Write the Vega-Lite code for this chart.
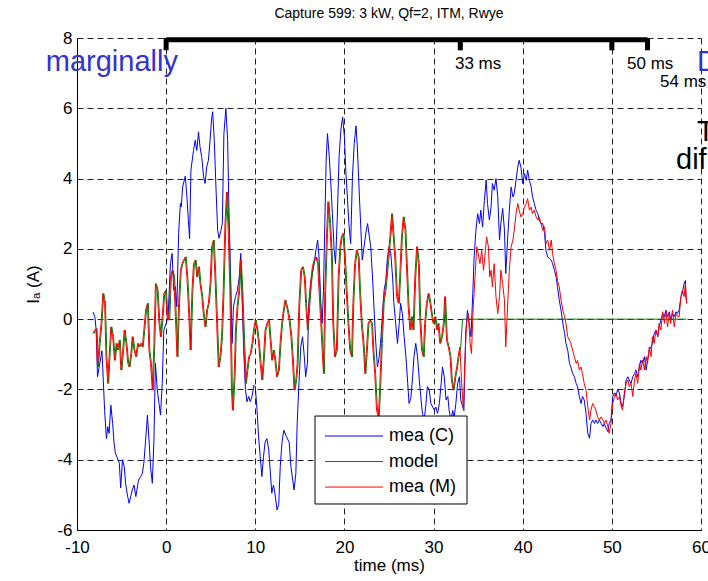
{
"$schema":"https://vega.github.io/schema/vega-lite/v6.json",
"width":624,"height":492,
"autosize":{"type":"none"},
"padding":{"left":77,"top":38,"right":7,"bottom":51},
"background":"white",
"title":{"text":"Capture 599: 3 kW, Qf=2, ITM, Rwye","fontSize":14,"fontWeight":"normal","font":"Liberation Sans","color":"#000","offset":8,"anchor":"middle"},
"config":{"font":"Liberation Sans","view":{"stroke":null},
"axis":{"domainColor":"#000","domainWidth":1,"gridColor":"#222","gridDash":[6,4],"gridWidth":1,"ticks":false,"labelFont":"Liberation Sans","labelFontSize":17,"labelColor":"#000","titleFont":"Liberation Sans","titleFontSize":17,"titleFontWeight":"normal","titleColor":"#000","labelExpr":"toString(datum.value)"}},
"datasets":{
"all":[{"s":"C","t":-8.2,"i":0.2},{"s":"C","t":-8.0,"i":0.07},{"s":"C","t":-7.85,"i":-0.3},{"s":"C","t":-7.7,"i":-1.64},{"s":"C","t":-7.5,"i":-1.35},{"s":"C","t":-7.2,"i":-0.9},{"s":"C","t":-6.9,"i":-2.6},{"s":"C","t":-6.7,"i":-3.4},{"s":"C","t":-6.55,"i":-3.06},{"s":"C","t":-6.4,"i":-3.25},{"s":"C","t":-6.2,"i":-2.45},{"s":"C","t":-6.0,"i":-2.97},{"s":"C","t":-5.85,"i":-3.5},{"s":"C","t":-5.7,"i":-3.8},{"s":"C","t":-5.55,"i":-3.9},{"s":"C","t":-5.25,"i":-4.1},{"s":"C","t":-5.1,"i":-4.8},{"s":"C","t":-4.9,"i":-4.0},{"s":"C","t":-4.7,"i":-4.2},{"s":"C","t":-4.55,"i":-4.67},{"s":"C","t":-4.35,"i":-5.0},{"s":"C","t":-4.15,"i":-5.24},{"s":"C","t":-3.8,"i":-4.86},{"s":"C","t":-3.6,"i":-4.72},{"s":"C","t":-3.4,"i":-5.05},{"s":"C","t":-3.1,"i":-4.58},{"s":"C","t":-2.85,"i":-4.48},{"s":"C","t":-2.67,"i":-4.39},{"s":"C","t":-2.5,"i":-4.1},{"s":"C","t":-2.3,"i":-3.44},{"s":"C","t":-2.1,"i":-2.73},{"s":"C","t":-1.9,"i":-3.53},{"s":"C","t":-1.75,"i":-4.2},{"s":"C","t":-1.55,"i":-4.67},{"s":"C","t":-1.37,"i":-3.44},{"s":"C","t":-1.2,"i":-1.26},{"s":"C","t":-1.0,"i":-2.0},{"s":"C","t":-0.8,"i":-2.4},{"s":"C","t":-0.63,"i":-2.73},{"s":"C","t":-0.44,"i":-1.83},{"s":"C","t":-0.26,"i":-0.31},{"s":"C","t":0,"i":-0.12},{"s":"C","t":0.22,"i":0.07},{"s":"C","t":0.48,"i":1.58},{"s":"C","t":0.67,"i":1.87},{"s":"C","t":0.85,"i":0.82},{"s":"C","t":1.04,"i":0.92},{"s":"C","t":1.2,"i":0.35},{"s":"C","t":1.4,"i":2.44},{"s":"C","t":1.6,"i":3.29},{"s":"C","t":1.7,"i":3.2},{"s":"C","t":1.85,"i":3.76},{"s":"C","t":2.15,"i":4.07},{"s":"C","t":2.33,"i":3.48},{"s":"C","t":2.5,"i":2.8},{"s":"C","t":2.63,"i":2.29},{"s":"C","t":2.78,"i":4.24},{"s":"C","t":3.07,"i":4.8},{"s":"C","t":3.26,"i":5.09},{"s":"C","t":3.44,"i":4.8},{"s":"C","t":3.63,"i":5.33},{"s":"C","t":3.8,"i":4.9},{"s":"C","t":4.0,"i":4.6},{"s":"C","t":4.2,"i":4.05},{"s":"C","t":4.37,"i":3.86},{"s":"C","t":4.55,"i":4.33},{"s":"C","t":4.74,"i":4.52},{"s":"C","t":4.93,"i":5.09},{"s":"C","t":5.1,"i":5.7},{"s":"C","t":5.22,"i":5.9},{"s":"C","t":5.4,"i":5.09},{"s":"C","t":5.6,"i":3.67},{"s":"C","t":5.78,"i":2.53},{"s":"C","t":5.93,"i":2.3},{"s":"C","t":6.15,"i":2.53},{"s":"C","t":6.3,"i":2.72},{"s":"C","t":6.48,"i":5.28},{"s":"C","t":6.7,"i":6.0},{"s":"C","t":6.9,"i":5.09},{"s":"C","t":7.04,"i":3.19},{"s":"C","t":7.2,"i":1.58},{"s":"C","t":7.4,"i":-0.69},{"s":"C","t":7.55,"i":0.35},{"s":"C","t":7.78,"i":0.64},{"s":"C","t":8.0,"i":0.82},{"s":"C","t":8.2,"i":1.2},{"s":"C","t":8.37,"i":1.87},{"s":"C","t":8.5,"i":0.82},{"s":"C","t":8.7,"i":-0.88},{"s":"C","t":8.9,"i":-2.0},{"s":"C","t":9.07,"i":-2.35},{"s":"C","t":9.26,"i":-2.2},{"s":"C","t":9.44,"i":-2.35},{"s":"C","t":9.63,"i":-2.2},{"s":"C","t":9.85,"i":-1.88},{"s":"C","t":10.0,"i":-1.92},{"s":"C","t":10.2,"i":-2.6},{"s":"C","t":10.37,"i":-3.35},{"s":"C","t":10.55,"i":-3.9},{"s":"C","t":10.74,"i":-4.48},{"s":"C","t":10.93,"i":-3.9},{"s":"C","t":11.1,"i":-3.5},{"s":"C","t":11.3,"i":-3.4},{"s":"C","t":11.5,"i":-3.7},{"s":"C","t":11.67,"i":-4.29},{"s":"C","t":11.85,"i":-4.95},{"s":"C","t":12.04,"i":-4.72},{"s":"C","t":12.2,"i":-4.95},{"s":"C","t":12.44,"i":-5.43},{"s":"C","t":12.63,"i":-5.28},{"s":"C","t":12.8,"i":-4.2},{"s":"C","t":13.0,"i":-3.5},{"s":"C","t":13.2,"i":-3.16},{"s":"C","t":13.5,"i":-3.35},{"s":"C","t":13.8,"i":-3.5},{"s":"C","t":14.0,"i":-4.2},{"s":"C","t":14.2,"i":-4.58},{"s":"C","t":14.35,"i":-4.86},{"s":"C","t":14.55,"i":-4.39},{"s":"C","t":14.7,"i":-2.97},{"s":"C","t":14.9,"i":-1.83},{"s":"C","t":15.1,"i":-0.79},{"s":"C","t":15.3,"i":-0.5},{"s":"C","t":15.5,"i":-1.07},{"s":"C","t":15.65,"i":-1.64},{"s":"C","t":15.85,"i":-1.26},{"s":"C","t":16.0,"i":0.45},{"s":"C","t":16.25,"i":1.1},{"s":"C","t":16.4,"i":1.3},{"s":"C","t":16.6,"i":1.58},{"s":"C","t":16.8,"i":1.96},{"s":"C","t":17.0,"i":2.25},{"s":"C","t":17.15,"i":1.77},{"s":"C","t":17.35,"i":0.45},{"s":"C","t":17.5,"i":-0.12},{"s":"C","t":17.65,"i":0.82},{"s":"C","t":17.8,"i":2.72},{"s":"C","t":17.95,"i":4.52},{"s":"C","t":18.1,"i":5.28},{"s":"C","t":18.3,"i":4.62},{"s":"C","t":18.45,"i":3.96},{"s":"C","t":18.65,"i":3.0},{"s":"C","t":18.85,"i":1.96},{"s":"C","t":19.0,"i":1.58},{"s":"C","t":19.2,"i":2.91},{"s":"C","t":19.4,"i":4.62},{"s":"C","t":19.6,"i":5.38},{"s":"C","t":19.8,"i":5.75},{"s":"C","t":20.0,"i":5.18},{"s":"C","t":20.15,"i":4.24},{"s":"C","t":20.35,"i":3.38},{"s":"C","t":20.5,"i":2.72},{"s":"C","t":20.7,"i":2.15},{"s":"C","t":20.9,"i":4.05},{"s":"C","t":21.1,"i":5.0},{"s":"C","t":21.3,"i":5.5},{"s":"C","t":21.45,"i":4.9},{"s":"C","t":21.65,"i":3.67},{"s":"C","t":21.85,"i":2.53},{"s":"C","t":22.0,"i":1.68},{"s":"C","t":22.2,"i":2.06},{"s":"C","t":22.4,"i":2.44},{"s":"C","t":22.6,"i":2.72},{"s":"C","t":22.8,"i":2.34},{"s":"C","t":22.95,"i":2.06},{"s":"C","t":23.15,"i":1.2},{"s":"C","t":23.35,"i":0.16},{"s":"C","t":23.5,"i":-0.6},{"s":"C","t":23.7,"i":-1.36},{"s":"C","t":23.9,"i":-1.07},{"s":"C","t":24.05,"i":-0.69},{"s":"C","t":24.25,"i":0.07},{"s":"C","t":24.45,"i":0.82},{"s":"C","t":24.65,"i":1.1},{"s":"C","t":24.8,"i":1.68},{"s":"C","t":25.0,"i":2.06},{"s":"C","t":25.2,"i":1.87},{"s":"C","t":25.4,"i":1.2},{"s":"C","t":25.55,"i":0.45},{"s":"C","t":25.75,"i":-0.12},{"s":"C","t":25.95,"i":-0.69},{"s":"C","t":26.15,"i":-0.12},{"s":"C","t":26.3,"i":0.45},{"s":"C","t":26.5,"i":0.16},{"s":"C","t":26.7,"i":-0.5},{"s":"C","t":26.9,"i":-1.07},{"s":"C","t":27.1,"i":-1.83},{"s":"C","t":27.25,"i":-2.4},{"s":"C","t":27.45,"i":-2.25},{"s":"C","t":27.65,"i":-1.64},{"s":"C","t":27.8,"i":-1.07},{"s":"C","t":28.0,"i":-0.69},{"s":"C","t":28.2,"i":-1.07},{"s":"C","t":28.4,"i":-1.73},{"s":"C","t":28.6,"i":-2.3},{"s":"C","t":28.75,"i":-2.68},{"s":"C","t":28.95,"i":-2.87},{"s":"C","t":29.15,"i":-2.4},{"s":"C","t":29.3,"i":-1.92},{"s":"C","t":29.5,"i":-2.0},{"s":"C","t":29.7,"i":-2.4},{"s":"C","t":29.9,"i":-2.5},{"s":"C","t":30.1,"i":-2.6},{"s":"C","t":30.25,"i":-2.5},{"s":"C","t":30.45,"i":-2.68},{"s":"C","t":30.65,"i":-2.4},{"s":"C","t":30.85,"i":-1.83},{"s":"C","t":31.0,"i":-1.36},{"s":"C","t":31.2,"i":-1.64},{"s":"C","t":31.4,"i":-2.3},{"s":"C","t":31.6,"i":-2.2},{"s":"C","t":31.75,"i":-2.6},{"s":"C","t":31.95,"i":-2.87},{"s":"C","t":32.15,"i":-2.6},{"s":"C","t":32.3,"i":-2.82},{"s":"C","t":32.5,"i":-2.4},{"s":"C","t":32.7,"i":-1.83},{"s":"C","t":32.9,"i":-1.64},{"s":"C","t":33.05,"i":-2.3},{"s":"C","t":33.4,"i":-2.6},{"s":"C","t":33.6,"i":-0.4},{"s":"C","t":33.8,"i":0.25},{"s":"C","t":34.0,"i":-0.12},{"s":"C","t":34.2,"i":-0.5},{"s":"C","t":34.4,"i":0.73},{"s":"C","t":34.55,"i":1.77},{"s":"C","t":34.75,"i":2.53},{"s":"C","t":34.95,"i":3.0},{"s":"C","t":35.15,"i":2.72},{"s":"C","t":35.3,"i":3.1},{"s":"C","t":35.5,"i":2.62},{"s":"C","t":35.7,"i":3.38},{"s":"C","t":35.9,"i":3.96},{"s":"C","t":36.05,"i":3.29},{"s":"C","t":36.26,"i":2.82},{"s":"C","t":36.45,"i":3.19},{"s":"C","t":36.6,"i":3.86},{"s":"C","t":36.8,"i":3.67},{"s":"C","t":37.0,"i":4.0},{"s":"C","t":37.2,"i":3.48},{"s":"C","t":37.4,"i":2.25},{"s":"C","t":37.55,"i":2.72},{"s":"C","t":37.75,"i":3.15},{"s":"C","t":37.95,"i":2.53},{"s":"C","t":38.1,"i":1.3},{"s":"C","t":38.3,"i":2.25},{"s":"C","t":38.5,"i":3.1},{"s":"C","t":38.7,"i":3.76},{"s":"C","t":38.9,"i":3.48},{"s":"C","t":39.05,"i":3.57},{"s":"C","t":39.25,"i":3.95},{"s":"C","t":39.45,"i":4.33},{"s":"C","t":39.6,"i":4.52},{"s":"C","t":39.8,"i":4.33},{"s":"C","t":40.0,"i":3.86},{"s":"C","t":40.2,"i":4.14},{"s":"C","t":40.4,"i":3.95},{"s":"C","t":40.55,"i":4.24},{"s":"C","t":40.75,"i":3.95},{"s":"C","t":40.95,"i":3.76},{"s":"C","t":41.1,"i":3.48},{"s":"C","t":41.3,"i":3.29},{"s":"C","t":41.5,"i":3.1},{"s":"C","t":41.7,"i":3.0},{"s":"C","t":41.85,"i":2.82},{"s":"C","t":42.05,"i":2.72},{"s":"C","t":42.25,"i":2.72},{"s":"C","t":42.45,"i":2.44},{"s":"C","t":42.6,"i":1.96},{"s":"C","t":42.8,"i":1.77},{"s":"C","t":43.0,"i":1.73},{"s":"C","t":43.2,"i":1.68},{"s":"C","t":43.35,"i":1.58},{"s":"C","t":43.55,"i":1.39},{"s":"C","t":43.75,"i":1.2},{"s":"C","t":43.9,"i":0.92},{"s":"C","t":44.1,"i":0.54},{"s":"C","t":44.3,"i":0.26},{"s":"C","t":44.5,"i":-0.12},{"s":"C","t":44.7,"i":-0.41},{"s":"C","t":44.85,"i":-0.69},{"s":"C","t":45.05,"i":-0.88},{"s":"C","t":45.25,"i":-1.26},{"s":"C","t":45.4,"i":-1.36},{"s":"C","t":45.6,"i":-1.55},{"s":"C","t":45.8,"i":-1.64},{"s":"C","t":46.0,"i":-1.83},{"s":"C","t":46.15,"i":-1.92},{"s":"C","t":46.35,"i":-2.2},{"s":"C","t":46.55,"i":-2.4},{"s":"C","t":46.7,"i":-2.2},{"s":"C","t":46.9,"i":-2.3},{"s":"C","t":47.1,"i":-2.68},{"s":"C","t":47.3,"i":-3.25},{"s":"C","t":47.5,"i":-3.39},{"s":"C","t":47.65,"i":-2.97},{"s":"C","t":47.85,"i":-2.87},{"s":"C","t":48.05,"i":-2.97},{"s":"C","t":48.2,"i":-2.87},{"s":"C","t":48.4,"i":-2.97},{"s":"C","t":48.6,"i":-2.87},{"s":"C","t":48.8,"i":-2.97},{"s":"C","t":49.0,"i":-3.06},{"s":"C","t":49.15,"i":-2.97},{"s":"C","t":49.35,"i":-3.1},{"s":"C","t":49.55,"i":-3.2},{"s":"C","t":49.7,"i":-2.97},{"s":"C","t":49.9,"i":-2.87},{"s":"C","t":50.1,"i":-2.2},{"s":"C","t":50.3,"i":-2.1},{"s":"C","t":50.45,"i":-2.2},{"s":"C","t":50.65,"i":-2.0},{"s":"C","t":50.85,"i":-2.1},{"s":"C","t":51.05,"i":-2.4},{"s":"C","t":51.2,"i":-2.5},{"s":"C","t":51.4,"i":-2.2},{"s":"C","t":51.6,"i":-1.73},{"s":"C","t":51.8,"i":-1.64},{"s":"C","t":51.95,"i":-1.73},{"s":"C","t":52.15,"i":-1.83},{"s":"C","t":52.35,"i":-1.64},{"s":"C","t":52.55,"i":-1.55},{"s":"C","t":52.7,"i":-1.45},{"s":"C","t":52.9,"i":-1.64},{"s":"C","t":53.1,"i":-1.36},{"s":"C","t":53.25,"i":-1.17},{"s":"C","t":53.45,"i":-1.26},{"s":"C","t":53.65,"i":-1.07},{"s":"C","t":53.85,"i":-1.45},{"s":"C","t":54.0,"i":-1.17},{"s":"C","t":54.2,"i":-0.88},{"s":"C","t":54.4,"i":-0.79},{"s":"C","t":54.55,"i":-0.69},{"s":"C","t":54.75,"i":-0.41},{"s":"C","t":54.95,"i":-0.31},{"s":"C","t":55.15,"i":-0.5},{"s":"C","t":55.3,"i":-0.22},{"s":"C","t":55.5,"i":-0.03},{"s":"C","t":55.7,"i":0.16},{"s":"C","t":55.9,"i":0.07},{"s":"C","t":56.05,"i":0.26},{"s":"C","t":56.25,"i":0.07},{"s":"C","t":56.45,"i":0.21},{"s":"C","t":56.6,"i":-0.03},{"s":"C","t":56.8,"i":0.16},{"s":"C","t":57.0,"i":0.07},{"s":"C","t":57.2,"i":0.21},{"s":"C","t":57.35,"i":0.16},{"s":"C","t":57.55,"i":0.26},{"s":"C","t":57.75,"i":0.64},{"s":"C","t":57.9,"i":0.73},{"s":"C","t":58.1,"i":1.01},{"s":"C","t":58.25,"i":1.1},{"s":"C","t":58.3,"i":0.64},{"s":"C","t":58.4,"i":0.45},
{"s":"G","t":-8.1,"i":-0.41},{"s":"G","t":-7.9,"i":-0.31},{"s":"G","t":-7.75,"i":-0.27},{"s":"G","t":-7.6,"i":-1.36},{"s":"G","t":-7.4,"i":-0.69},{"s":"G","t":-7.2,"i":-0.12},{"s":"G","t":-7.0,"i":0.73},{"s":"G","t":-6.8,"i":0.45},{"s":"G","t":-6.65,"i":-1.07},{"s":"G","t":-6.45,"i":-1.83},{"s":"G","t":-6.3,"i":-1.07},{"s":"G","t":-6.1,"i":-0.22},{"s":"G","t":-5.9,"i":-0.5},{"s":"G","t":-5.7,"i":-1.17},{"s":"G","t":-5.5,"i":-0.69},{"s":"G","t":-5.35,"i":-0.88},{"s":"G","t":-5.15,"i":-0.6},{"s":"G","t":-4.97,"i":-1.45},{"s":"G","t":-4.8,"i":-0.98},{"s":"G","t":-4.6,"i":-0.31},{"s":"G","t":-4.4,"i":-0.69},{"s":"G","t":-4.2,"i":-1.26},{"s":"G","t":-4.05,"i":-1.36},{"s":"G","t":-3.86,"i":-0.98},{"s":"G","t":-3.7,"i":-0.5},{"s":"G","t":-3.5,"i":-0.88},{"s":"G","t":-3.3,"i":-1.07},{"s":"G","t":-3.1,"i":-0.69},{"s":"G","t":-2.94,"i":-0.79},{"s":"G","t":-2.75,"i":-0.69},{"s":"G","t":-2.57,"i":-0.79},{"s":"G","t":-2.4,"i":-0.31},{"s":"G","t":-2.2,"i":0.26},{"s":"G","t":-2.0,"i":0.45},{"s":"G","t":-1.83,"i":-0.88},{"s":"G","t":-1.65,"i":-1.26},{"s":"G","t":-1.45,"i":-2.02},{"s":"G","t":-1.27,"i":-0.69},{"s":"G","t":-1.1,"i":1.01},{"s":"G","t":-0.9,"i":0.82},{"s":"G","t":-0.7,"i":-0.12},{"s":"G","t":-0.53,"i":-0.5},{"s":"G","t":-0.34,"i":0.07},{"s":"G","t":-0.16,"i":0.73},{"s":"G","t":0.03,"i":0.82},{"s":"G","t":0.2,"i":0.07},{"s":"G","t":0.4,"i":-0.03},{"s":"G","t":0.58,"i":1.2},{"s":"G","t":0.77,"i":1.39},{"s":"G","t":0.95,"i":1.2},{"s":"G","t":1.14,"i":0.07},{"s":"G","t":1.32,"i":-1.07},{"s":"G","t":1.5,"i":0.45},{"s":"G","t":1.7,"i":1.39},{"s":"G","t":1.88,"i":1.58},{"s":"G","t":2.06,"i":1.68},{"s":"G","t":2.25,"i":1.77},{"s":"G","t":2.43,"i":1.2},{"s":"G","t":2.6,"i":0.35},{"s":"G","t":2.8,"i":-0.88},{"s":"G","t":3.0,"i":0.82},{"s":"G","t":3.17,"i":1.58},{"s":"G","t":3.36,"i":1.68},{"s":"G","t":3.54,"i":1.2},{"s":"G","t":3.73,"i":1.49},{"s":"G","t":3.9,"i":1.01},{"s":"G","t":4.1,"i":0.64},{"s":"G","t":4.3,"i":0.07},{"s":"G","t":4.47,"i":-0.22},{"s":"G","t":4.65,"i":0.26},{"s":"G","t":4.84,"i":0.45},{"s":"G","t":5.03,"i":1.01},{"s":"G","t":5.2,"i":2.06},{"s":"G","t":5.4,"i":2.25},{"s":"G","t":5.58,"i":1.2},{"s":"G","t":5.77,"i":-0.12},{"s":"G","t":5.95,"i":-1.36},{"s":"G","t":6.14,"i":-1.07},{"s":"G","t":6.32,"i":-0.5},{"s":"G","t":6.5,"i":0.82},{"s":"G","t":6.7,"i":2.72},{"s":"G","t":6.88,"i":3.62},{"s":"G","t":7.06,"i":2.53},{"s":"G","t":7.25,"i":0.82},{"s":"G","t":7.43,"i":-2.02},{"s":"G","t":7.54,"i":-2.59},{"s":"G","t":7.73,"i":-1.64},{"s":"G","t":7.88,"i":-0.31},{"s":"G","t":8.06,"i":0.35},{"s":"G","t":8.25,"i":0.82},{"s":"G","t":8.43,"i":1.68},{"s":"G","t":8.6,"i":0.82},{"s":"G","t":8.8,"i":-0.6},{"s":"G","t":9.0,"i":-1.83},{"s":"G","t":9.17,"i":-1.45},{"s":"G","t":9.36,"i":-1.07},{"s":"G","t":9.54,"i":-0.98},{"s":"G","t":9.73,"i":-0.69},{"s":"G","t":9.9,"i":-0.31},{"s":"G","t":10.1,"i":-0.03},{"s":"G","t":10.3,"i":-0.31},{"s":"G","t":10.47,"i":-0.69},{"s":"G","t":10.65,"i":-1.26},{"s":"G","t":10.84,"i":-1.73},{"s":"G","t":11.03,"i":-1.07},{"s":"G","t":11.2,"i":-0.31},{"s":"G","t":11.4,"i":-0.12},{"s":"G","t":11.6,"i":-0.03},{"s":"G","t":11.77,"i":-0.6},{"s":"G","t":11.95,"i":-1.17},{"s":"G","t":12.14,"i":-0.88},{"s":"G","t":12.3,"i":-1.17},{"s":"G","t":12.5,"i":-1.64},{"s":"G","t":12.7,"i":-1.45},{"s":"G","t":12.88,"i":-0.69},{"s":"G","t":13.06,"i":-0.12},{"s":"G","t":13.25,"i":0.26},{"s":"G","t":13.43,"i":0.54},{"s":"G","t":13.7,"i":0.26},{"s":"G","t":13.9,"i":-0.03},{"s":"G","t":14.1,"i":-0.5},{"s":"G","t":14.25,"i":-1.07},{"s":"G","t":14.45,"i":-2.02},{"s":"G","t":14.65,"i":-1.73},{"s":"G","t":14.8,"i":-1.26},{"s":"G","t":15.0,"i":0.45},{"s":"G","t":15.2,"i":1.39},{"s":"G","t":15.4,"i":1.49},{"s":"G","t":15.6,"i":1.2},{"s":"G","t":15.75,"i":0.45},{"s":"G","t":15.95,"i":-0.31},{"s":"G","t":16.1,"i":0.35},{"s":"G","t":16.3,"i":1.01},{"s":"G","t":16.5,"i":1.49},{"s":"G","t":16.7,"i":1.68},{"s":"G","t":16.9,"i":1.77},{"s":"G","t":17.1,"i":1.58},{"s":"G","t":17.25,"i":0.82},{"s":"G","t":17.45,"i":-0.12},{"s":"G","t":17.6,"i":-0.88},{"s":"G","t":17.75,"i":-1.55},{"s":"G","t":17.9,"i":0.82},{"s":"G","t":18.1,"i":2.44},{"s":"G","t":18.25,"i":3.34},{"s":"G","t":18.45,"i":2.72},{"s":"G","t":18.65,"i":1.77},{"s":"G","t":18.8,"i":-0.12},{"s":"G","t":19.0,"i":-1.07},{"s":"G","t":19.2,"i":-0.88},{"s":"G","t":19.4,"i":1.2},{"s":"G","t":19.6,"i":2.06},{"s":"G","t":19.75,"i":2.34},{"s":"G","t":19.95,"i":2.44},{"s":"G","t":20.15,"i":1.58},{"s":"G","t":20.3,"i":0.82},{"s":"G","t":20.5,"i":-0.12},{"s":"G","t":20.7,"i":-0.88},{"s":"G","t":20.9,"i":-1.07},{"s":"G","t":21.05,"i":0.45},{"s":"G","t":21.25,"i":1.58},{"s":"G","t":21.45,"i":1.96},{"s":"G","t":21.65,"i":1.77},{"s":"G","t":21.8,"i":0.82},{"s":"G","t":22.0,"i":-0.12},{"s":"G","t":22.2,"i":-0.69},{"s":"G","t":22.4,"i":-1.55},{"s":"G","t":22.55,"i":-0.98},{"s":"G","t":22.75,"i":-0.12},{"s":"G","t":22.95,"i":-0.03},{"s":"G","t":23.15,"i":-0.12},{"s":"G","t":23.3,"i":-0.88},{"s":"G","t":23.5,"i":-1.55},{"s":"G","t":23.7,"i":-2.59},{"s":"G","t":23.9,"i":-2.78},{"s":"G","t":24.05,"i":-2.02},{"s":"G","t":24.25,"i":-0.69},{"s":"G","t":24.45,"i":0.45},{"s":"G","t":24.65,"i":0.82},{"s":"G","t":24.8,"i":1.2},{"s":"G","t":25.0,"i":1.77},{"s":"G","t":25.2,"i":2.34},{"s":"G","t":25.4,"i":3.0},{"s":"G","t":25.55,"i":2.44},{"s":"G","t":25.75,"i":1.77},{"s":"G","t":25.95,"i":0.64},{"s":"G","t":26.15,"i":0.45},{"s":"G","t":26.3,"i":1.2},{"s":"G","t":26.5,"i":2.34},{"s":"G","t":26.7,"i":2.91},{"s":"G","t":26.9,"i":2.53},{"s":"G","t":27.05,"i":1.58},{"s":"G","t":27.25,"i":0.35},{"s":"G","t":27.45,"i":-0.31},{"s":"G","t":27.65,"i":0.07},{"s":"G","t":27.8,"i":-0.31},{"s":"G","t":28.0,"i":1.2},{"s":"G","t":28.2,"i":2.06},{"s":"G","t":28.4,"i":1.58},{"s":"G","t":28.55,"i":0.07},{"s":"G","t":28.75,"i":-0.88},{"s":"G","t":28.95,"i":-1.07},{"s":"G","t":29.1,"i":-0.12},{"s":"G","t":29.3,"i":0.45},{"s":"G","t":29.5,"i":0.73},{"s":"G","t":29.7,"i":0.45},{"s":"G","t":29.9,"i":0.07},{"s":"G","t":30.05,"i":-0.12},{"s":"G","t":30.25,"i":0.07},{"s":"G","t":30.45,"i":-0.31},{"s":"G","t":30.6,"i":-0.12},{"s":"G","t":30.8,"i":-0.69},{"s":"G","t":31.0,"i":-0.5},{"s":"G","t":31.2,"i":-0.12},{"s":"G","t":31.35,"i":0.64},{"s":"G","t":31.55,"i":-0.6},{"s":"G","t":31.75,"i":-0.79},{"s":"G","t":31.95,"i":-1.07},{"s":"G","t":32.1,"i":-1.73},{"s":"G","t":32.3,"i":-2.02},{"s":"G","t":32.5,"i":-1.64},{"s":"G","t":32.7,"i":-1.36},{"s":"G","t":32.85,"i":-1.07},{"s":"G","t":33.05,"i":-0.79},{"s":"G","t":33.25,"i":0},{"s":"G","t":58.35,"i":0},
{"s":"R","t":-8.2,"i":-0.41},{"s":"R","t":-8.0,"i":-0.31},{"s":"R","t":-7.85,"i":-0.27},{"s":"R","t":-7.7,"i":-1.36},{"s":"R","t":-7.5,"i":-0.69},{"s":"R","t":-7.3,"i":-0.12},{"s":"R","t":-7.1,"i":0.73},{"s":"R","t":-6.9,"i":0.45},{"s":"R","t":-6.75,"i":-1.07},{"s":"R","t":-6.55,"i":-1.83},{"s":"R","t":-6.4,"i":-1.07},{"s":"R","t":-6.2,"i":-0.22},{"s":"R","t":-6.0,"i":-0.5},{"s":"R","t":-5.8,"i":-1.17},{"s":"R","t":-5.6,"i":-0.69},{"s":"R","t":-5.45,"i":-0.88},{"s":"R","t":-5.25,"i":-0.6},{"s":"R","t":-5.07,"i":-1.45},{"s":"R","t":-4.9,"i":-0.98},{"s":"R","t":-4.7,"i":-0.31},{"s":"R","t":-4.5,"i":-0.69},{"s":"R","t":-4.3,"i":-1.26},{"s":"R","t":-4.15,"i":-1.36},{"s":"R","t":-3.96,"i":-0.98},{"s":"R","t":-3.8,"i":-0.5},{"s":"R","t":-3.6,"i":-0.88},{"s":"R","t":-3.4,"i":-1.07},{"s":"R","t":-3.2,"i":-0.69},{"s":"R","t":-3.04,"i":-0.79},{"s":"R","t":-2.85,"i":-0.69},{"s":"R","t":-2.67,"i":-0.79},{"s":"R","t":-2.5,"i":-0.31},{"s":"R","t":-2.3,"i":0.26},{"s":"R","t":-2.1,"i":0.45},{"s":"R","t":-1.93,"i":-0.88},{"s":"R","t":-1.75,"i":-1.26},{"s":"R","t":-1.55,"i":-2.02},{"s":"R","t":-1.37,"i":-0.69},{"s":"R","t":-1.2,"i":1.01},{"s":"R","t":-1.0,"i":0.82},{"s":"R","t":-0.8,"i":-0.12},{"s":"R","t":-0.63,"i":-0.5},{"s":"R","t":-0.44,"i":0.07},{"s":"R","t":-0.26,"i":0.73},{"s":"R","t":-0.07,"i":0.82},{"s":"R","t":0.1,"i":0.07},{"s":"R","t":0.3,"i":-0.03},{"s":"R","t":0.48,"i":1.2},{"s":"R","t":0.67,"i":1.39},{"s":"R","t":0.85,"i":1.2},{"s":"R","t":1.04,"i":0.07},{"s":"R","t":1.22,"i":-1.07},{"s":"R","t":1.4,"i":0.45},{"s":"R","t":1.6,"i":1.39},{"s":"R","t":1.78,"i":1.58},{"s":"R","t":1.96,"i":1.68},{"s":"R","t":2.15,"i":1.77},{"s":"R","t":2.33,"i":1.2},{"s":"R","t":2.5,"i":0.35},{"s":"R","t":2.7,"i":-0.88},{"s":"R","t":2.9,"i":0.82},{"s":"R","t":3.07,"i":1.58},{"s":"R","t":3.26,"i":1.68},{"s":"R","t":3.44,"i":1.2},{"s":"R","t":3.63,"i":1.49},{"s":"R","t":3.8,"i":1.01},{"s":"R","t":4.0,"i":0.64},{"s":"R","t":4.2,"i":0.07},{"s":"R","t":4.37,"i":-0.22},{"s":"R","t":4.55,"i":0.26},{"s":"R","t":4.74,"i":0.45},{"s":"R","t":4.93,"i":1.01},{"s":"R","t":5.1,"i":2.06},{"s":"R","t":5.3,"i":2.25},{"s":"R","t":5.48,"i":1.2},{"s":"R","t":5.67,"i":-0.12},{"s":"R","t":5.85,"i":-1.36},{"s":"R","t":6.04,"i":-1.07},{"s":"R","t":6.22,"i":-0.5},{"s":"R","t":6.4,"i":0.82},{"s":"R","t":6.6,"i":2.72},{"s":"R","t":6.78,"i":3.62},{"s":"R","t":6.96,"i":2.53},{"s":"R","t":7.15,"i":0.82},{"s":"R","t":7.33,"i":-2.02},{"s":"R","t":7.44,"i":-2.59},{"s":"R","t":7.63,"i":-1.64},{"s":"R","t":7.78,"i":-0.31},{"s":"R","t":7.96,"i":0.35},{"s":"R","t":8.15,"i":0.82},{"s":"R","t":8.33,"i":1.68},{"s":"R","t":8.5,"i":0.82},{"s":"R","t":8.7,"i":-0.6},{"s":"R","t":8.9,"i":-1.83},{"s":"R","t":9.07,"i":-1.45},{"s":"R","t":9.26,"i":-1.07},{"s":"R","t":9.44,"i":-0.98},{"s":"R","t":9.63,"i":-0.69},{"s":"R","t":9.8,"i":-0.31},{"s":"R","t":10.0,"i":-0.03},{"s":"R","t":10.2,"i":-0.31},{"s":"R","t":10.37,"i":-0.69},{"s":"R","t":10.55,"i":-1.26},{"s":"R","t":10.74,"i":-1.73},{"s":"R","t":10.93,"i":-1.07},{"s":"R","t":11.1,"i":-0.31},{"s":"R","t":11.3,"i":-0.12},{"s":"R","t":11.5,"i":-0.03},{"s":"R","t":11.67,"i":-0.6},{"s":"R","t":11.85,"i":-1.17},{"s":"R","t":12.04,"i":-0.88},{"s":"R","t":12.2,"i":-1.17},{"s":"R","t":12.4,"i":-1.64},{"s":"R","t":12.6,"i":-1.45},{"s":"R","t":12.78,"i":-0.69},{"s":"R","t":12.96,"i":-0.12},{"s":"R","t":13.15,"i":0.26},{"s":"R","t":13.33,"i":0.54},{"s":"R","t":13.6,"i":0.26},{"s":"R","t":13.8,"i":-0.03},{"s":"R","t":14.0,"i":-0.5},{"s":"R","t":14.15,"i":-1.07},{"s":"R","t":14.35,"i":-2.02},{"s":"R","t":14.55,"i":-1.73},{"s":"R","t":14.7,"i":-1.26},{"s":"R","t":14.9,"i":0.45},{"s":"R","t":15.1,"i":1.39},{"s":"R","t":15.3,"i":1.49},{"s":"R","t":15.5,"i":1.2},{"s":"R","t":15.65,"i":0.45},{"s":"R","t":15.85,"i":-0.31},{"s":"R","t":16.0,"i":0.35},{"s":"R","t":16.2,"i":1.01},{"s":"R","t":16.4,"i":1.49},{"s":"R","t":16.6,"i":1.68},{"s":"R","t":16.8,"i":1.77},{"s":"R","t":17.0,"i":1.58},{"s":"R","t":17.15,"i":0.82},{"s":"R","t":17.35,"i":-0.12},{"s":"R","t":17.5,"i":-0.88},{"s":"R","t":17.65,"i":-1.55},{"s":"R","t":17.8,"i":0.82},{"s":"R","t":18.0,"i":2.44},{"s":"R","t":18.15,"i":3.34},{"s":"R","t":18.35,"i":2.72},{"s":"R","t":18.55,"i":1.77},{"s":"R","t":18.7,"i":-0.12},{"s":"R","t":18.9,"i":-1.07},{"s":"R","t":19.1,"i":-0.88},{"s":"R","t":19.3,"i":1.2},{"s":"R","t":19.5,"i":2.06},{"s":"R","t":19.65,"i":2.34},{"s":"R","t":19.85,"i":2.44},{"s":"R","t":20.05,"i":1.58},{"s":"R","t":20.2,"i":0.82},{"s":"R","t":20.4,"i":-0.12},{"s":"R","t":20.6,"i":-0.88},{"s":"R","t":20.8,"i":-1.07},{"s":"R","t":20.95,"i":0.45},{"s":"R","t":21.15,"i":1.58},{"s":"R","t":21.35,"i":1.96},{"s":"R","t":21.55,"i":1.77},{"s":"R","t":21.7,"i":0.82},{"s":"R","t":21.9,"i":-0.12},{"s":"R","t":22.1,"i":-0.69},{"s":"R","t":22.3,"i":-1.55},{"s":"R","t":22.45,"i":-0.98},{"s":"R","t":22.65,"i":-0.12},{"s":"R","t":22.85,"i":-0.03},{"s":"R","t":23.05,"i":-0.12},{"s":"R","t":23.2,"i":-0.88},{"s":"R","t":23.4,"i":-1.55},{"s":"R","t":23.6,"i":-2.59},{"s":"R","t":23.8,"i":-2.78},{"s":"R","t":23.95,"i":-2.02},{"s":"R","t":24.15,"i":-0.69},{"s":"R","t":24.35,"i":0.45},{"s":"R","t":24.55,"i":0.82},{"s":"R","t":24.7,"i":1.2},{"s":"R","t":24.9,"i":1.77},{"s":"R","t":25.1,"i":2.34},{"s":"R","t":25.3,"i":3.0},{"s":"R","t":25.45,"i":2.44},{"s":"R","t":25.65,"i":1.77},{"s":"R","t":25.85,"i":0.64},{"s":"R","t":26.05,"i":0.45},{"s":"R","t":26.2,"i":1.2},{"s":"R","t":26.4,"i":2.34},{"s":"R","t":26.6,"i":2.91},{"s":"R","t":26.8,"i":2.53},{"s":"R","t":26.95,"i":1.58},{"s":"R","t":27.15,"i":0.35},{"s":"R","t":27.35,"i":-0.31},{"s":"R","t":27.55,"i":0.07},{"s":"R","t":27.7,"i":-0.31},{"s":"R","t":27.9,"i":1.2},{"s":"R","t":28.1,"i":2.06},{"s":"R","t":28.3,"i":1.58},{"s":"R","t":28.45,"i":0.07},{"s":"R","t":28.65,"i":-0.88},{"s":"R","t":28.85,"i":-1.07},{"s":"R","t":29.0,"i":-0.12},{"s":"R","t":29.2,"i":0.45},{"s":"R","t":29.4,"i":0.73},{"s":"R","t":29.6,"i":0.45},{"s":"R","t":29.8,"i":0.07},{"s":"R","t":29.95,"i":-0.12},{"s":"R","t":30.15,"i":0.07},{"s":"R","t":30.35,"i":-0.31},{"s":"R","t":30.5,"i":-0.12},{"s":"R","t":30.7,"i":-0.69},{"s":"R","t":30.9,"i":-0.5},{"s":"R","t":31.1,"i":-0.12},{"s":"R","t":31.25,"i":0.64},{"s":"R","t":31.45,"i":-0.6},{"s":"R","t":31.65,"i":-0.79},{"s":"R","t":31.85,"i":-1.07},{"s":"R","t":32.0,"i":-1.73},{"s":"R","t":32.2,"i":-2.02},{"s":"R","t":32.4,"i":-1.64},{"s":"R","t":32.6,"i":-1.36},{"s":"R","t":32.75,"i":-1.07},{"s":"R","t":32.95,"i":-0.79},{"s":"R","t":33.15,"i":-1.83},{"s":"R","t":33.35,"i":-2.59},{"s":"R","t":33.5,"i":-1.26},{"s":"R","t":33.7,"i":-0.12},{"s":"R","t":33.9,"i":0.16},{"s":"R","t":34.1,"i":-0.69},{"s":"R","t":34.25,"i":-0.98},{"s":"R","t":34.45,"i":0.35},{"s":"R","t":34.65,"i":1.2},{"s":"R","t":34.85,"i":2.06},{"s":"R","t":35.0,"i":1.87},{"s":"R","t":35.2,"i":1.58},{"s":"R","t":35.4,"i":1.96},{"s":"R","t":35.6,"i":1.39},{"s":"R","t":35.75,"i":1.77},{"s":"R","t":35.95,"i":2.34},{"s":"R","t":36.15,"i":2.06},{"s":"R","t":36.3,"i":1.2},{"s":"R","t":36.45,"i":1.39},{"s":"R","t":36.6,"i":0.92},{"s":"R","t":36.8,"i":1.58},{"s":"R","t":37.0,"i":0.64},{"s":"R","t":37.2,"i":0.16},{"s":"R","t":37.4,"i":0.64},{"s":"R","t":37.55,"i":1.39},{"s":"R","t":37.75,"i":1.01},{"s":"R","t":37.95,"i":0.54},{"s":"R","t":38.1,"i":-0.79},{"s":"R","t":38.3,"i":0.35},{"s":"R","t":38.5,"i":1.39},{"s":"R","t":38.7,"i":2.06},{"s":"R","t":38.9,"i":2.25},{"s":"R","t":39.05,"i":2.53},{"s":"R","t":39.25,"i":3.0},{"s":"R","t":39.45,"i":3.29},{"s":"R","t":39.6,"i":3.1},{"s":"R","t":39.8,"i":2.91},{"s":"R","t":40.0,"i":3.0},{"s":"R","t":40.2,"i":3.19},{"s":"R","t":40.4,"i":3.29},{"s":"R","t":40.55,"i":3.43},{"s":"R","t":40.75,"i":3.1},{"s":"R","t":40.95,"i":3.19},{"s":"R","t":41.1,"i":3.0},{"s":"R","t":41.3,"i":3.1},{"s":"R","t":41.5,"i":2.91},{"s":"R","t":41.7,"i":2.82},{"s":"R","t":41.85,"i":2.91},{"s":"R","t":42.05,"i":2.72},{"s":"R","t":42.25,"i":2.53},{"s":"R","t":42.45,"i":2.63},{"s":"R","t":42.6,"i":2.15},{"s":"R","t":42.8,"i":2.25},{"s":"R","t":43.0,"i":1.96},{"s":"R","t":43.2,"i":2.25},{"s":"R","t":43.35,"i":1.87},{"s":"R","t":43.55,"i":1.58},{"s":"R","t":43.75,"i":1.39},{"s":"R","t":43.9,"i":1.1},{"s":"R","t":44.1,"i":0.92},{"s":"R","t":44.3,"i":0.54},{"s":"R","t":44.5,"i":0.26},{"s":"R","t":44.7,"i":0.07},{"s":"R","t":44.85,"i":-0.12},{"s":"R","t":45.05,"i":-0.5},{"s":"R","t":45.25,"i":-0.6},{"s":"R","t":45.4,"i":-0.69},{"s":"R","t":45.6,"i":-0.88},{"s":"R","t":45.8,"i":-1.07},{"s":"R","t":46.0,"i":-1.26},{"s":"R","t":46.15,"i":-1.17},{"s":"R","t":46.35,"i":-1.45},{"s":"R","t":46.55,"i":-1.36},{"s":"R","t":46.7,"i":-1.55},{"s":"R","t":46.9,"i":-1.83},{"s":"R","t":47.1,"i":-2.02},{"s":"R","t":47.3,"i":-2.49},{"s":"R","t":47.5,"i":-2.87},{"s":"R","t":47.65,"i":-2.59},{"s":"R","t":47.85,"i":-2.4},{"s":"R","t":48.05,"i":-2.49},{"s":"R","t":48.2,"i":-2.59},{"s":"R","t":48.4,"i":-2.78},{"s":"R","t":48.6,"i":-2.87},{"s":"R","t":48.8,"i":-2.78},{"s":"R","t":49.0,"i":-2.87},{"s":"R","t":49.15,"i":-2.97},{"s":"R","t":49.35,"i":-2.87},{"s":"R","t":49.55,"i":-3.06},{"s":"R","t":49.7,"i":-3.25},{"s":"R","t":49.9,"i":-2.97},{"s":"R","t":50.1,"i":-2.4},{"s":"R","t":50.3,"i":-2.2},{"s":"R","t":50.45,"i":-2.1},{"s":"R","t":50.65,"i":-2.3},{"s":"R","t":50.85,"i":-2.2},{"s":"R","t":51.05,"i":-2.49},{"s":"R","t":51.2,"i":-2.59},{"s":"R","t":51.4,"i":-2.1},{"s":"R","t":51.6,"i":-1.83},{"s":"R","t":51.8,"i":-1.73},{"s":"R","t":51.95,"i":-1.92},{"s":"R","t":52.15,"i":-1.83},{"s":"R","t":52.35,"i":-2.2},{"s":"R","t":52.55,"i":-1.73},{"s":"R","t":52.7,"i":-1.55},{"s":"R","t":52.9,"i":-1.83},{"s":"R","t":53.1,"i":-1.26},{"s":"R","t":53.25,"i":-1.45},{"s":"R","t":53.45,"i":-1.17},{"s":"R","t":53.65,"i":-1.45},{"s":"R","t":53.85,"i":-1.07},{"s":"R","t":54.0,"i":-1.26},{"s":"R","t":54.2,"i":-0.79},{"s":"R","t":54.4,"i":-1.07},{"s":"R","t":54.55,"i":-0.5},{"s":"R","t":54.75,"i":-0.69},{"s":"R","t":54.95,"i":-0.31},{"s":"R","t":55.15,"i":-0.5},{"s":"R","t":55.3,"i":-0.12},{"s":"R","t":55.5,"i":-0.31},{"s":"R","t":55.7,"i":0.21},{"s":"R","t":55.9,"i":-0.12},{"s":"R","t":56.05,"i":0.26},{"s":"R","t":56.25,"i":-0.22},{"s":"R","t":56.45,"i":0.16},{"s":"R","t":56.6,"i":-0.12},{"s":"R","t":56.8,"i":0.26},{"s":"R","t":57.0,"i":-0.22},{"s":"R","t":57.2,"i":0.16},{"s":"R","t":57.35,"i":0.07},{"s":"R","t":57.55,"i":0.07},{"s":"R","t":57.75,"i":0.64},{"s":"R","t":57.9,"i":0.82},{"s":"R","t":58.1,"i":0.64},{"s":"R","t":58.25,"i":1.01},{"s":"R","t":58.4,"i":0.45}]
},
"layer":[
{"data":{"name":"all"},"mark":{"type":"line","strokeWidth":1,"clip":true},
 "encoding":{
  "x":{"field":"t","type":"quantitative","scale":{"domain":[-10,60],"nice":false,"zero":false},"axis":{"title":"time (ms)","values":[-10,0,10,20,30,40,50,60],"grid":true,"labelPadding":9,"titlePadding":2,"labelFlush":false}},
  "y":{"field":"i","type":"quantitative","scale":{"domain":[-6,8],"nice":false,"zero":false},"axis":{"title":"Iₐ (A)","values":[-6,-4,-2,0,2,4,6,8],"grid":true,"labelPadding":5,"titlePadding":14,"labelFlush":false}},
  "color":{"field":"s","type":"nominal","scale":{"domain":["C","G","R"],"range":["#0000ff","#008000","#ff0000"]},"legend":null}}},
{"data":{"values":[{}]},"mark":{"type":"rect","fill":"#ffffff","stroke":"#000000","strokeWidth":1},"encoding":{"x":{"datum":16.7},"x2":{"datum":33.75},"y":{"datum":-2.757},"y2":{"datum":-5.26}}},
{"data":{"values":[{}]},"mark":{"type":"rule","color":"#0000ff","strokeWidth":1},"encoding":{"x":{"datum":17.82},"x2":{"datum":24.33},"y":{"datum":-3.326}}},
{"data":{"values":[{}]},"mark":{"type":"rule","color":"#008000","strokeWidth":1},"encoding":{"x":{"datum":17.82},"x2":{"datum":24.33},"y":{"datum":-4.052}}},
{"data":{"values":[{}]},"mark":{"type":"rule","color":"#ff0000","strokeWidth":1},"encoding":{"x":{"datum":17.82},"x2":{"datum":24.33},"y":{"datum":-4.778}}},
{"data":{"values":[{}]},"mark":{"type":"text","text":"mea (C)","align":"left","baseline":"middle","fontSize":18,"color":"#000"},"encoding":{"x":{"datum":25.0},"y":{"datum":-3.326}}},
{"data":{"values":[{}]},"mark":{"type":"text","text":"model","align":"left","baseline":"middle","fontSize":18,"color":"#000"},"encoding":{"x":{"datum":25.0},"y":{"datum":-4.052}}},
{"data":{"values":[{}]},"mark":{"type":"text","text":"mea (M)","align":"left","baseline":"middle","fontSize":18,"color":"#000"},"encoding":{"x":{"datum":25.0},"y":{"datum":-4.778}}},
{"data":{"values":[{"a":0,"b":54}]},"mark":{"type":"rule","color":"#000","strokeWidth":5},"encoding":{"x":{"field":"a","type":"quantitative"},"x2":{"field":"b"},"y":{"datum":7.95}}},
{"data":{"values":[{"t":0},{"t":33},{"t":50},{"t":54}]},"mark":{"type":"rule","color":"#000","strokeWidth":5},"encoding":{"x":{"field":"t","type":"quantitative"},"y":{"datum":8},"y2":{"datum":7.65}}},
{"data":{"values":[{}]},"mark":{"type":"text","text":"33 ms","align":"left","baseline":"middle","fontSize":17,"color":"#000"},"encoding":{"x":{"datum":32.4},"y":{"datum":7.26}}},
{"data":{"values":[{}]},"mark":{"type":"text","text":"50 ms","align":"left","baseline":"middle","fontSize":17,"color":"#000"},"encoding":{"x":{"datum":51.7},"y":{"datum":7.26}}},
{"data":{"values":[{}]},"mark":{"type":"text","text":"54 ms","align":"left","baseline":"middle","fontSize":17,"color":"#000"},"encoding":{"x":{"datum":55.4},"y":{"datum":6.75}}},
{"data":{"values":[{}]},"mark":{"type":"text","text":"marginally","align":"left","baseline":"middle","fontSize":29,"color":"#3333cc"},"encoding":{"x":{"datum":-13.5},"y":{"datum":7.32}}},
{"data":{"values":[{}]},"mark":{"type":"text","text":"D","align":"left","baseline":"middle","fontSize":29,"color":"#3333cc"},"encoding":{"x":{"datum":59.55},"y":{"datum":7.32}}},
{"data":{"values":[{}]},"mark":{"type":"text","text":"T","align":"left","baseline":"middle","fontSize":29,"color":"#000"},"encoding":{"x":{"datum":59.55},"y":{"datum":5.32}}},
{"data":{"values":[{}]},"mark":{"type":"text","text":"dif","align":"left","baseline":"middle","fontSize":29,"color":"#000"},"encoding":{"x":{"datum":57.2},"y":{"datum":4.53}}}
]
}
